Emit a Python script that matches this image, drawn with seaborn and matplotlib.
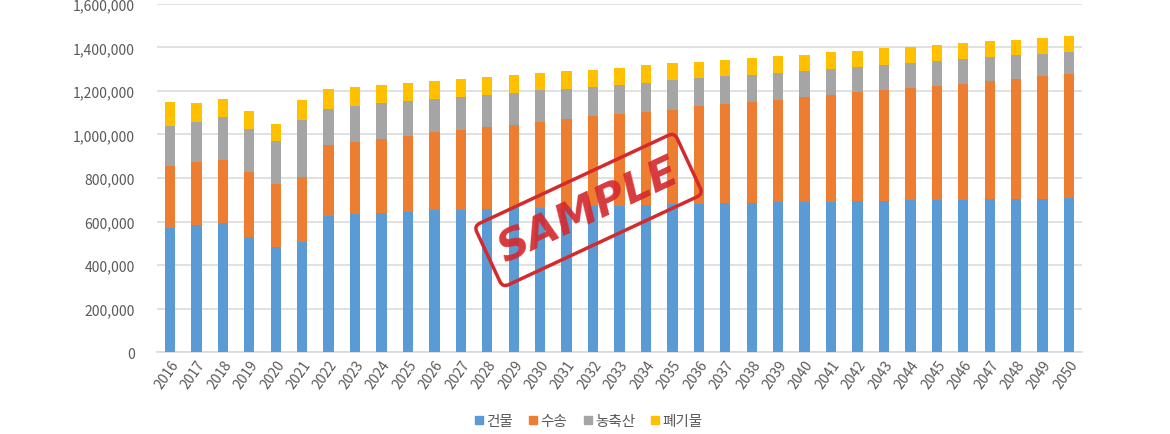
import numpy as np
import pandas as pd
import matplotlib
matplotlib.use("Agg")
import matplotlib.pyplot as plt
from matplotlib.ticker import FuncFormatter
from matplotlib.lines import Line2D
import seaborn as sns

# ---- data -------------------------------------------------------------
years = [str(y) for y in range(2016, 2051)]

building = [569200, 585700, 594900, 530600, 484700, 504900, 624200, 633400,
            639400, 645400, 651800, 651800, 657800, 661000, 663700, 666000,
            670000, 672900, 677500, 679300, 679300, 685300, 685300, 688500,
            688500, 688500, 694500, 694500, 697700, 697700, 697700, 703600,
            703600, 703600, 708200]

transport = [287300, 286400, 286400, 297000, 287800, 301100, 327300, 330500,
             341100, 348800, 358000, 368600, 377800, 383700, 394800, 404900,
             414600, 420900, 425500, 434300, 449700, 453000, 463600, 469600,
             484700, 493900, 498900, 508100, 514100, 524600, 533800, 543100,
             552300, 563300, 567800]

agriculture = [182200, 184900, 197400, 197400, 197400, 261600, 166700, 168100,
               162400, 157900, 152900, 152800, 146800, 146900, 144100, 137700,
               133100, 134500, 134500, 134900, 128700, 128600, 122500, 123900,
               119400, 119400, 118000, 117400, 114700, 114800, 114700, 108700,
               108700, 103800, 103900]

waste = [108800, 85900, 84000, 82600, 78000, 89100, 89000, 84400,
         84000, 84000, 84000, 79900, 79900, 81200, 79400, 84000,
         79400, 78000, 79800, 78000, 74800, 74800, 79400, 78000,
         73400, 75200, 73000, 75400, 73500, 73400, 74900, 73500,
         70400, 73500, 73400]

series_names = ["건물", "수송", "농축산", "폐기물"]
series_colors = ["#5B9BD5", "#ED7D31", "#A5A5A5", "#FFC000"]

# ---- style ------------------------------------------------------------
sns.set_theme(style="white")
plt.rcParams["font.family"] = ["Noto Sans CJK KR", "DejaVu Sans"]

fig = plt.figure(figsize=(11.7, 4.35), dpi=100)
ax = fig.add_axes([0.134, 0.188, 0.791, 0.801])

df = pd.DataFrame({"year": years, "건물": building, "수송": transport,
                   "농축산": agriculture, "폐기물": waste})

bottom = np.zeros(len(years))
for name, color in zip(series_names, series_colors):
    vals = df[name].to_numpy(dtype=float)
    sns.barplot(x=df["year"], y=vals, bottom=bottom, color=color,
                width=0.39, ax=ax, linewidth=0, saturation=1, zorder=3)
    bottom = bottom + vals

# ---- axes -------------------------------------------------------------
ax.set_xlim(-0.5, len(years) - 0.5)
ax.set_ylim(0, 1600000)
ax.set_yticks(np.arange(0, 1600001, 200000))
ax.yaxis.set_major_formatter(FuncFormatter(lambda v, p: f"{int(v):,}"))
ax.grid(axis="y", color="#D9D9D9", linewidth=1.1, zorder=0)
ax.grid(axis="x", visible=False)
ax.set_axisbelow(True)
for side in ["top", "right", "left"]:
    ax.spines[side].set_visible(False)
ax.spines["bottom"].set_color("#D9D9D9")
ax.spines["bottom"].set_linewidth(1.1)
ax.set_xlabel("")
ax.set_ylabel("")
ax.tick_params(axis="both", length=0, colors="#595959", labelsize=10)
ax.tick_params(axis="y", pad=16)
for lbl in ax.get_xticklabels():
    lbl.set_rotation(55)
    lbl.set_ha("right")
    lbl.set_rotation_mode("anchor")

# ---- legend -----------------------------------------------------------
handles = [Line2D([0], [0], marker="s", linestyle="none", markersize=6,
                  markerfacecolor=c, markeredgecolor=c)
           for c in series_colors]
fig.legend(handles, series_names, loc="center", bbox_to_anchor=(0.503, 0.03),
           ncol=4, frameon=False, fontsize=10.5, handlelength=0.6,
           handletextpad=0.2, columnspacing=1.1, labelcolor="#595959")

# ---- stamp ------------------------------------------------------------
fig.text(0.503, 0.515, "SAMPLE", rotation=25, ha="center", va="center",
         fontsize=31, fontweight="heavy", fontstyle="italic",
         family="DejaVu Sans", color="#D42A2E", alpha=0.92, zorder=10,
         bbox=dict(boxstyle="round,pad=0.3,rounding_size=0.15",
                   facecolor="none", edgecolor="#D42A2E", linewidth=2.5))

fig.savefig("out.png", dpi=100)
